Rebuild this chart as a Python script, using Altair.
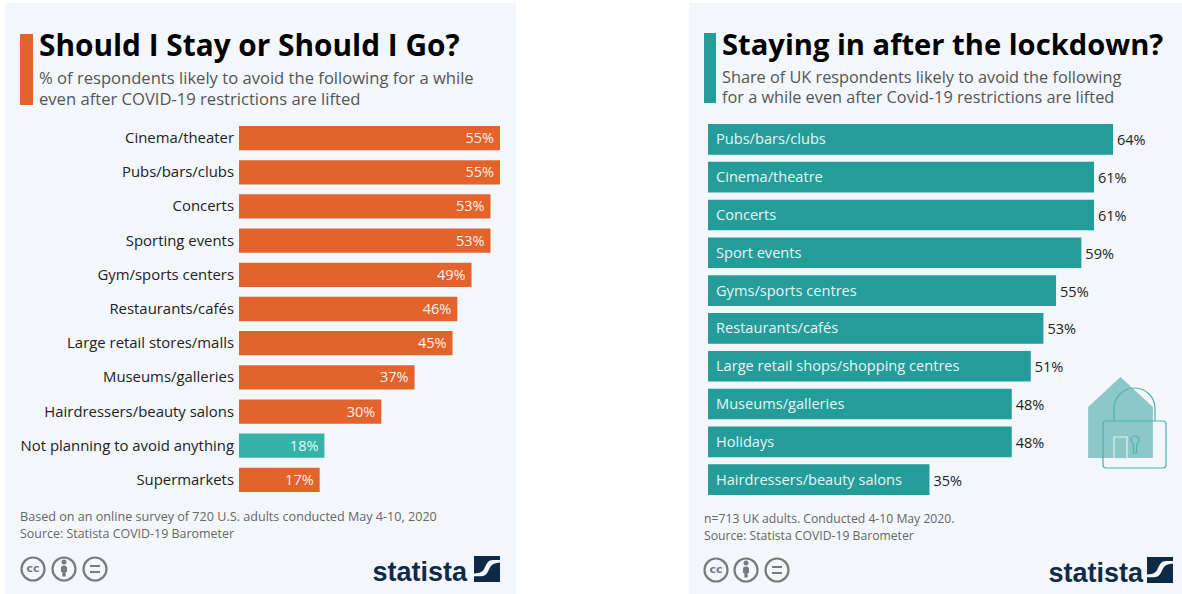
import altair as alt
import pandas as pd

# Survey results, US panel
us_categories = ["Cinema/theater", "Pubs/bars/clubs", "Concerts", "Sporting events",
                 "Gym/sports centers", "Restaurants/cafés", "Large retail stores/malls",
                 "Museums/galleries", "Hairdressers/beauty salons",
                 "Not planning to avoid anything", "Supermarkets"]
us_values = [55, 55, 53, 53, 49, 46, 45, 37, 30, 18, 17]

# Survey results, UK panel
uk_categories = ["Pubs/bars/clubs", "Cinema/theatre", "Concerts", "Sport events",
                 "Gyms/sports centres", "Restaurants/cafés",
                 "Large retail shops/shopping centres", "Museums/galleries",
                 "Holidays", "Hairdressers/beauty salons"]
uk_values = [64, 61, 61, 59, 55, 53, 51, 48, 48, 35]

ORANGE = "#E2632B"
TEAL_LIGHT = "#35B3AB"
TEAL = "#239C9A"
PANEL = "#F3F7FB"
NAVY = "#0F2A47"
GREY = "#7A7A7A"
LOCK = "#4FAFAF"
FONT = "Open Sans"
LOGO_FONT = "Liberation Sans"

# Custom symbols, drawn in a [-1, 1] box
LOGO_TOP = "M-1,-1 L1,-1 L1,-0.69 L0.45,-0.69 C0.05,-0.69 -0.05,-0.35 -0.2,-0.05 C-0.32,0.2 -0.5,0.35 -1,0.35 Z"
LOGO_BOTTOM = "M1,1 L-1,1 L-1,0.56 L-0.45,0.56 C-0.05,0.56 0.05,0.25 0.2,-0.05 C0.32,-0.3 0.5,-0.48 1,-0.48 Z"
HOUSE = "M-0.8,1 L-0.8,-0.26 L0,-1 L0.8,-0.26 L0.8,1 Z"
KEYHOLE = "M-0.47,-0.53 A0.47,0.47 0 1 1 0.47,-0.53 C0.47,-0.2 0.18,-0.15 0.18,0.1 L0.18,1 L-0.18,1 L-0.18,0.1 C-0.18,-0.15 -0.47,-0.2 -0.47,-0.53 Z"
SHACKLE = "M-1,0.61 L-1,0 A1,1 0 0 1 1,0 L1,0.61"
PERSON_BODY = "M-0.55,-0.5 Q-0.55,-1 0,-1 Q0.55,-1 0.55,-0.5 L0.55,0.2 L0.3,0.2 L0.3,1 L-0.3,1 L-0.3,0.2 L-0.55,0.2 Z"


def label(text, x, y, size, color, weight="normal", align="left", font=FONT):
    return alt.Chart(pd.DataFrame({"t": [text]})).mark_text(
        font=font, fontSize=size, fontWeight=weight, color=color,
        align=align, baseline="alphabetic",
    ).encode(text="t:N", x=alt.value(x), y=alt.value(y))


def box(x0, x1, y0, y1, color, **kw):
    return alt.Chart(pd.DataFrame({"a": [0]})).mark_rect(color=color, **kw).encode(
        x=alt.value(x0), x2=alt.value(x1), y=alt.value(y0), y2=alt.value(y1))


def symbol(shape, x, y, w, fill=None, stroke=None, width=1.0, opacity=1.0):
    props = dict(shape=shape, size=w * w, opacity=opacity, strokeWidth=width)
    props["filled"] = fill is not None
    if fill is not None:
        props["fill"] = fill
        props["strokeWidth"] = 0
    if stroke is not None:
        props["stroke"] = stroke
    return alt.Chart(pd.DataFrame({"a": [0]})).mark_point(**props).encode(
        x=alt.value(x), y=alt.value(y))


def licence_icons(xs, y):
    parts = [symbol("circle", x, y, 23, stroke=GREY, width=2.2) for x in xs]
    parts.append(alt.Chart(pd.DataFrame({"t": ["cc"]})).mark_text(
        font="DejaVu Sans", fontSize=11, fontWeight="bold", color=GREY,
        align="center", baseline="middle").encode(text="t:N", x=alt.value(xs[0]), y=alt.value(y)))
    parts.append(symbol("circle", xs[1], y - 7, 5, fill=GREY))
    parts.append(symbol(PERSON_BODY, xs[1], y + 2, 11, fill=GREY))
    parts.append(box(xs[2] - 5, xs[2] + 5, y - 4, y - 2, GREY))
    parts.append(box(xs[2] - 5, xs[2] + 5, y + 2, y + 4, GREY))
    return parts


def logo(x_text_right, x_mark, y):
    return [
        label("statista", x_text_right, y + 12, 27, NAVY, weight="bold", align="right", font=LOGO_FONT),
        symbol(LOGO_TOP, x_mark, y, 26, fill=NAVY),
        symbol(LOGO_BOTTOM, x_mark, y, 26, fill=NAVY),
    ]


us = pd.DataFrame({"category": us_categories, "value": us_values})
us["text"] = us["value"].astype(str) + "%"
uk = pd.DataFrame({"category": uk_categories, "value": uk_values})
uk["text"] = uk["value"].astype(str) + "%"

us_x = alt.X("value:Q", scale=alt.Scale(domain=[0, 55], range=[239, 500]), axis=None)
us_y = alt.Y("category:N", scale=alt.Scale(type="band", domain=us_categories, range=[126, 492],
                                            paddingInner=0.29, paddingOuter=0), axis=None)
uk_x = alt.X("value:Q", scale=alt.Scale(domain=[0, 64], range=[708, 1113]), axis=None)
uk_y = alt.Y("category:N", scale=alt.Scale(type="band", domain=uk_categories, range=[124, 495],
                                            paddingInner=0.19, paddingOuter=0), axis=None)

us_base = alt.Chart(us)
us_layers = [
    us_base.mark_bar().encode(
        x=us_x, x2=alt.value(239), y=us_y,
        color=alt.condition(alt.datum.category == "Not planning to avoid anything",
                            alt.value(TEAL_LIGHT), alt.value(ORANGE))),
    us_base.mark_text(font=FONT, fontSize=14.5, color="#FFFFFF", align="right", dx=-6, dy=1, opacity=0.9).encode(
        x=us_x, y=us_y, text="text:N"),
    us_base.mark_text(font=FONT, fontSize=14.9, color="#222222", align="right", dy=1).encode(
        x=alt.value(234), y=us_y, text="category:N"),
]

uk_base = alt.Chart(uk)
uk_layers = [
    uk_base.mark_bar(color=TEAL).encode(x=uk_x, x2=alt.value(708), y=uk_y),
    uk_base.mark_text(font=FONT, fontSize=14.6, color="#FFFFFF", align="left", dy=1, opacity=0.9).encode(
        x=alt.value(716), y=uk_y, text="category:N"),
    uk_base.mark_text(font=FONT, fontSize=14.5, color="#222222", align="left", dx=4, dy=2).encode(
        x=uk_x, y=uk_y, text="text:N"),
]

layers = [
    box(5, 516, 3, 594, PANEL),
    box(689, 1182, 3, 594, PANEL),
    box(20, 33, 34, 105, ORANGE),
    box(704, 716, 33, 103, TEAL),
    label("Should I Stay or Should I Go?", 39, 55.5, 29.8, "#000000", weight="bold"),
    label("% of respondents likely to avoid the following for a while", 39, 84, 16.6, "#555555"),
    label("even after COVID-19 restrictions are lifted", 39, 104.5, 16.6, "#555555"),
    label("Staying in after the lockdown?", 722, 55, 29.15, "#000000", weight="bold"),
    label("Share of UK respondents likely to avoid the following", 722, 83, 16.3, "#555555"),
    label("for a while even after Covid-19 restrictions are lifted", 722, 103, 16.3, "#555555"),
    *us_layers,
    *uk_layers,
    label("Based on an online survey of 720 U.S. adults conducted May 4-10, 2020", 20, 520.5, 12.6, "#666666"),
    label("Source: Statista COVID-19 Barometer", 20, 538, 12.45, "#666666"),
    label("n=713 UK adults. Conducted 4-10 May 2020.", 704, 522.5, 12.2, "#666666"),
    label("Source: Statista COVID-19 Barometer", 704, 540, 12.2, "#666666"),
    *licence_icons([33, 64, 95], 569),
    *licence_icons([716, 746, 777], 570),
    *logo(467, 487, 569),
    *logo(1143, 1160, 570),
    # Padlocked house ornament
    symbol(HOUSE, 1120.5, 417.5, 81, fill="#8CC8C8"),
    box(1114, 1127, 437, 459, "#FFFFFF", fillOpacity=0, stroke="#E4F2F2", strokeWidth=1.2),
    symbol(SHACKLE, 1134.5, 408.5, 41, stroke=LOCK, width=1.2),
    box(1103, 1166, 421, 468, LOCK, fillOpacity=0, stroke=LOCK, strokeWidth=1.2, cornerRadius=3),
    symbol(KEYHOLE, 1135, 444.5, 17, stroke=LOCK, width=1.1),
]

chart = (
    alt.layer(*layers)
    .resolve_scale(x="independent", y="independent", color="independent")
    .properties(width=1182, height=594, padding=0, autosize=alt.AutoSizeParams(type="none"), background="#FFFFFF")
    .configure_view(stroke=None)
)

chart.save("out.html", embed_options={"renderer": "svg", "actions": False})
